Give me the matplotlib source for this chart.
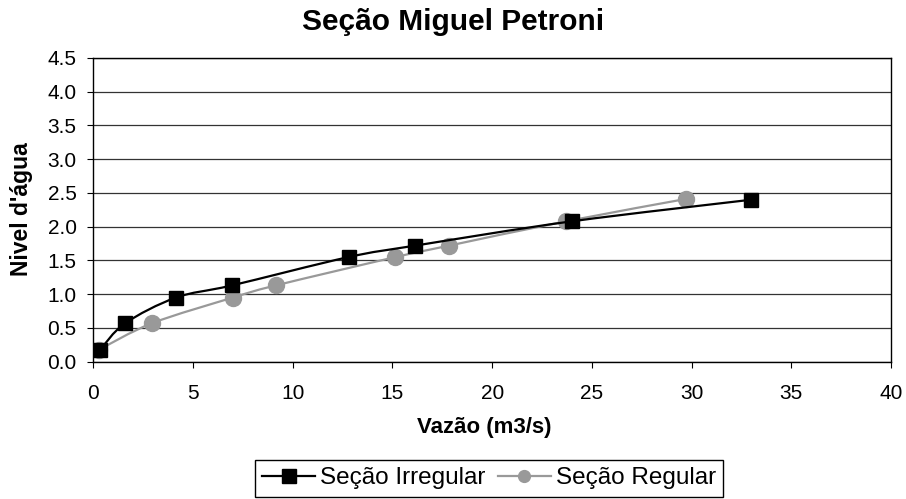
import numpy as np
import matplotlib.pyplot as plt
from matplotlib.path import Path
from matplotlib.patches import PathPatch
from matplotlib.lines import Line2D

plt.rcParams['font.family'] = ['Liberation Sans', 'DejaVu Sans']

# Seção Irregular
vazao_irr = [0.35, 1.6, 4.15, 6.95, 12.8, 16.15, 24.0, 33.0]
nivel_irr = [0.18, 0.57, 0.95, 1.13, 1.55, 1.72, 2.08, 2.40]
# Seção Regular
vazao_reg = [0.3, 2.95, 7.0, 9.15, 15.15, 17.85, 23.7, 29.7]
nivel_reg = [0.18, 0.57, 0.95, 1.13, 1.55, 1.72, 2.08, 2.41]

xticks = [0, 5, 10, 15, 20, 25, 30, 35, 40]
yticks = [0.0, 0.5, 1.0, 1.5, 2.0, 2.5, 3.0, 3.5, 4.0, 4.5]


def smooth_path(x, y):
    # bezier smoothing like the excel "smoothed line" option
    p = np.column_stack([x, y])
    n = len(p)
    verts = [p[0]]
    codes = [Path.MOVETO]
    for i in range(n - 1):
        p0 = p[max(i - 1, 0)]
        p1 = p[i]
        p2 = p[i + 1]
        p3 = p[min(i + 2, n - 1)]
        c1 = p1 + (p2 - p0) / 6.0
        c2 = p2 - (p3 - p1) / 6.0
        verts += [c1, c2, p2]
        codes += [Path.CURVE4] * 3
    return Path(verts, codes)


fig = plt.figure(figsize=(9.06, 4.99), dpi=100)
ax = fig.add_axes([0.103, 0.2752, 0.8804, 0.6086])

ax.add_patch(PathPatch(smooth_path(vazao_reg, nivel_reg), fill=False,
                       edgecolor='#999999', lw=1.6, zorder=3))
ax.plot(vazao_reg, nivel_reg, 'o', color='#999999', ms=11.5, mec='#999999', zorder=4)
ax.add_patch(PathPatch(smooth_path(vazao_irr, nivel_irr), fill=False,
                       edgecolor='black', lw=1.6, zorder=5))
ax.plot(vazao_irr, nivel_irr, 's', color='black', ms=10.5, zorder=6)

ax.set_xlim(0, 40)
ax.set_ylim(0, 4.5)
ax.set_xticks(xticks)
ax.set_yticks(yticks)
ax.set_yticklabels(['{:.1f}'.format(v) for v in yticks])
ax.yaxis.grid(True, color='#333333', lw=0.9)
ax.set_axisbelow(True)
for s in ax.spines.values():
    s.set_color('black')
    s.set_linewidth(1)
ax.tick_params(axis='both', direction='out', labelsize=15, length=4, color='black')
ax.tick_params(axis='y', pad=8)
ax.tick_params(axis='x', pad=12)

fig.text(0.5, 0.955, 'Seção Miguel Petroni', ha='center', va='center',
         fontsize=21.5, fontweight='bold')
fig.text(0.535, 1 - 428 / 499, 'Vazão (m3/s)', ha='center', va='center',
         fontsize=16, fontweight='bold')
fig.text(0.024, 1 - 209 / 499, "Nivel d'água", ha='center', va='center',
         rotation=90, fontsize=16.5, fontweight='bold')

handles = [
    Line2D([], [], color='black', lw=1.6, marker='s', ms=10.5),
    Line2D([], [], color='#999999', lw=1.6, marker='o', ms=8.5),
]
leg = fig.legend(handles, ['Seção Irregular', 'Seção Regular'], loc='upper center',
                 bbox_to_anchor=(0.5397, 1 - 460 / 499), ncol=2, fontsize=17.5,
                 frameon=True, fancybox=False, edgecolor='black', framealpha=1,
                 handlelength=2.2, handletextpad=0.2, columnspacing=0.5,
                 borderpad=0.3, borderaxespad=0)
leg.get_frame().set_linewidth(1)

fig.savefig('out.png', dpi=100)
